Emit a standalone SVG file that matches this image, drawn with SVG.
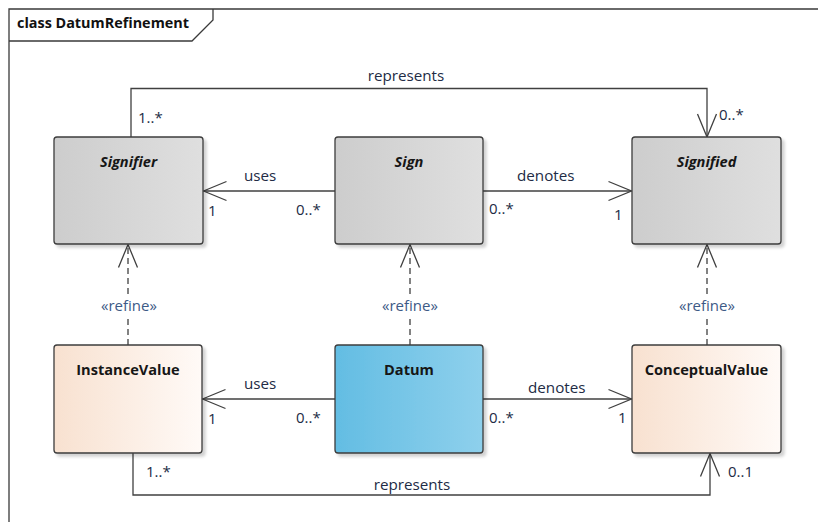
<svg xmlns="http://www.w3.org/2000/svg" width="818" height="522" viewBox="0 0 818 522">
  <style>
    .frame { fill: none; stroke: #3a3a3a; stroke-width: 1.3; }
    .frame-title { font-family: "Open Sans", "Liberation Sans", sans-serif; font-weight: bold; font-size: 14.4px; fill: #111; }
    .box { stroke: #3c3c3c; stroke-width: 1.3; filter: url(#shadow); }
    .abstract { fill: url(#gray); }
    .value { fill: url(#peach); }
    .datum { fill: url(#blue); }
    .title { font-family: "Open Sans", "Liberation Sans", sans-serif; font-weight: bold; font-size: 14.6px; fill: #161616; text-anchor: middle; }
    .italic { font-style: italic; }
    .link { fill: none; stroke: #404040; stroke-width: 1.3; }
    .assoc { marker-end: url(#open); }
    .dash { stroke-dasharray: 6 4; }
    .tip { marker-end: url(#open); }
    .label { font-family: "Open Sans", "Liberation Sans", sans-serif; font-size: 15.2px; fill: #222b45; }
    .mult { font-family: "Open Sans", "Liberation Sans", sans-serif; font-size: 15px; fill: #222b45; }
    .stereo { font-family: "Open Sans", "Liberation Sans", sans-serif; font-size: 15px; fill: #3d5a86; text-anchor: middle; }
  </style>
  <defs>
    <linearGradient id="gray" x1="0" y1="0" x2="1" y2="0">
      <stop offset="0" stop-color="#cdcdcd"/>
      <stop offset="1" stop-color="#dfdfdf"/>
    </linearGradient>
    <linearGradient id="peach" x1="0" y1="0" x2="1" y2="0">
      <stop offset="0" stop-color="#f8e1d0"/>
      <stop offset="1" stop-color="#fffaf7"/>
    </linearGradient>
    <linearGradient id="blue" x1="0" y1="0" x2="1" y2="0">
      <stop offset="0" stop-color="#63bde3"/>
      <stop offset="1" stop-color="#8ed0ec"/>
    </linearGradient>
    <filter id="shadow" x="-10%" y="-10%" width="125%" height="125%">
      <feDropShadow dx="3" dy="3" stdDeviation="1.6" flood-color="#000" flood-opacity="0.18"/>
    </filter>
    <marker id="open" viewBox="-26 -12 28 24" refX="0" refY="0" markerWidth="28" markerHeight="24" markerUnits="userSpaceOnUse" orient="auto">
      <path d="M-23,-9.5 L0,0 L-23,9.5" fill="none" stroke="#404040" stroke-width="1.3" stroke-dasharray="none"/>
    </marker>
  </defs>

  <rect width="818" height="522" fill="#ffffff"/>

  <!-- diagram frame -->
  <g id="frame">
    <path class="frame" d="M820,9 H9 V525"/>
    <path class="frame" d="M9,41 H192 L213,20 V9"/>
    <text class="frame-title" x="17" y="28">class DatumRefinement</text>
  </g>

  <!-- connectors -->
  <g id="connectors">
    <!-- Signifier represents Signified -->
    <path class="link assoc" d="M131,137 V88.5 H707 V137"/>
    <!-- Sign uses Signifier -->
    <path class="link assoc" d="M335,191 H203.5"/>
    <!-- Sign denotes Signified -->
    <path class="link assoc" d="M483,191 H631.5"/>
    <!-- refinements: dashed lines broken around the stereotype label -->
    <path class="link dash" d="M128,345 V316"/>
    <path class="link dash tip" d="M128,294 V244.5"/>
    <path class="link dash" d="M410,345 V316"/>
    <path class="link dash tip" d="M410,294 V244.5"/>
    <path class="link dash" d="M707,345 V316"/>
    <path class="link dash tip" d="M707,294 V244.5"/>
    <!-- Datum uses InstanceValue -->
    <path class="link assoc" d="M335,399 H202.5"/>
    <!-- Datum denotes ConceptualValue -->
    <path class="link assoc" d="M483,399 H631.5"/>
    <!-- InstanceValue represents ConceptualValue -->
    <path class="link assoc" d="M133,453 V495 H710 V453.5"/>

    <text class="label" x="406" y="81" text-anchor="middle">represents</text>
    <text class="mult" x="138" y="123">1..*</text>
    <text class="mult" x="719" y="120">0..*</text>

    <text class="label" x="244" y="181">uses</text>
    <text class="mult" x="208" y="216">1</text>
    <text class="mult" x="296" y="215">0..*</text>

    <text class="label" x="517" y="181">denotes</text>
    <text class="mult" x="489" y="214">0..*</text>
    <text class="mult" x="614" y="220">1</text>

    <text class="stereo" x="129" y="311">«refine»</text>
    <text class="stereo" x="410" y="311">«refine»</text>
    <text class="stereo" x="707" y="311">«refine»</text>

    <text class="label" x="244" y="389">uses</text>
    <text class="mult" x="208" y="424">1</text>
    <text class="mult" x="296" y="423">0..*</text>

    <text class="label" x="528" y="393">denotes</text>
    <text class="mult" x="489" y="423">0..*</text>
    <text class="mult" x="618" y="423">1</text>

    <text class="mult" x="146" y="477">1..*</text>
    <text class="label" x="412" y="490" text-anchor="middle">represents</text>
    <text class="mult" x="728" y="477">0..1</text>
  </g>

  <!-- classes -->
  <g id="Signifier">
    <rect class="box abstract" x="54" y="137" width="149" height="107" rx="3"/>
    <text class="title italic" x="128.5" y="167">Signifier</text>
  </g>
  <g id="Sign">
    <rect class="box abstract" x="335" y="137" width="148" height="107" rx="3"/>
    <text class="title italic" x="409" y="167">Sign</text>
  </g>
  <g id="Signified">
    <rect class="box abstract" x="632" y="137" width="149" height="107" rx="3"/>
    <text class="title italic" x="706.5" y="167">Signified</text>
  </g>
  <g id="InstanceValue">
    <rect class="box value" x="54" y="345" width="148" height="108" rx="3"/>
    <text class="title" x="128" y="375">InstanceValue</text>
  </g>
  <g id="Datum">
    <rect class="box datum" x="335" y="345" width="148" height="108" rx="3"/>
    <text class="title" x="409" y="375">Datum</text>
  </g>
  <g id="ConceptualValue">
    <rect class="box value" x="632" y="345" width="149" height="108" rx="3"/>
    <text class="title" x="706.5" y="375">ConceptualValue</text>
  </g>
</svg>
